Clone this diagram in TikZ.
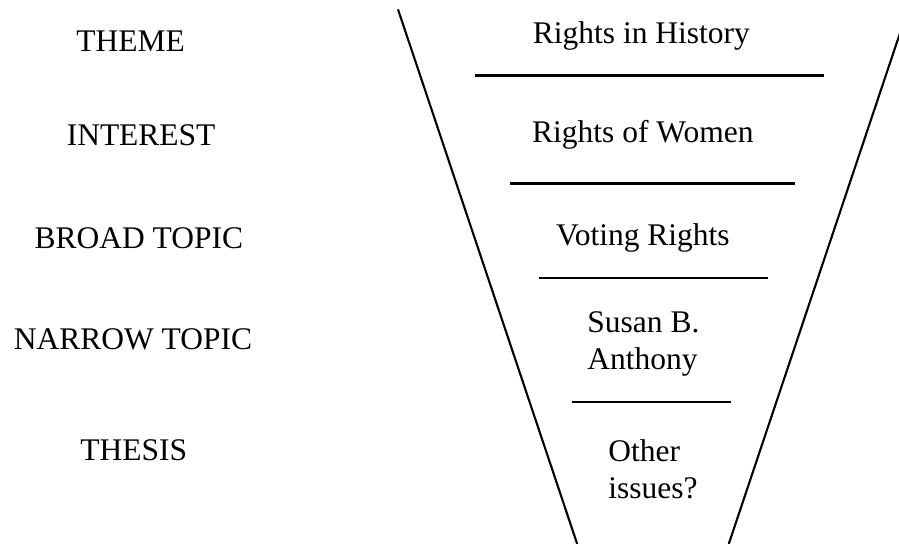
\documentclass[tikz,border=0pt]{standalone}
\usepackage{fontspec}
\setmainfont{Liberation Serif}
\usepackage{tikz}
\usetikzlibrary{positioning}

\tikzset{
  stage/.style={font=\fontsize{12}{14.1}\selectfont, inner sep=0pt, anchor=base},
  level/.style={font=\fontsize{12}{14.1}\selectfont, inner sep=0pt, align=left, anchor=west},
  bar/.style={line width=1pt},
  funnel/.style={line width=0.8pt}
}

\begin{document}
\begin{tikzpicture}
    \useasboundingbox (0,0) rectangle (12.04,7.285);
    \clip (0,0) rectangle (12.04,7.285);
    % stage names on the left
    \node [stage] (theme) at (1.75,6.59) {THEME};
    \node [stage] (interest) at (1.89,5.34) {INTEREST};
    \node [stage] (broad) at (1.86,3.96) {BROAD TOPIC};
    \node [stage] (narrow) at (1.78,2.60) {NARROW TOPIC};
    \node [stage] (thesis) at (1.79,1.12) {THESIS};
    % what goes in the funnel
    \node [stage] (history) at (8.59,6.70) {Rights in History};
    \node [stage] (women) at (8.61,5.38) {Rights of Women};
    \node [stage] (voting) at (8.61,4.00) {Voting Rights};
    \node [level] (susan) at (7.86,2.68) {Susan B.\\Anthony};
    \node [level] (other) at (8.14,1.00) {Other\\issues?};
    % funnel sides
    \coordinate (tl) at (5.33,7.16);
    \coordinate (bl) at (7.73,0);
    \coordinate (tr) at (12.16,7.16);
    \coordinate (br) at (9.76,0);
    \draw [funnel] (tl) -- (bl);
    \draw [funnel] (tr) -- (br);
    % bars between the levels
    \draw [bar] (6.36,6.27) -- (11.03,6.27);
    \draw [bar] (6.83,4.83) -- (10.65,4.83);
    \draw [bar] (7.22,3.56) -- (10.28,3.56);
    \draw [bar] (7.66,1.90) -- (9.79,1.90);
\end{tikzpicture}
\end{document}
